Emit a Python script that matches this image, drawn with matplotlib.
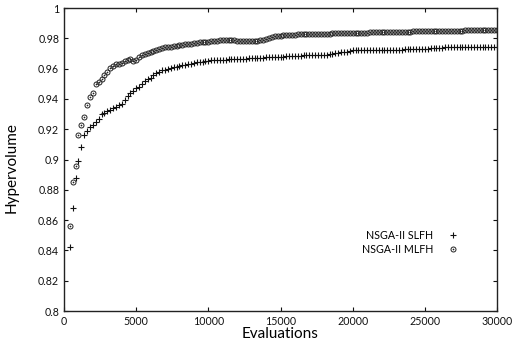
import matplotlib
matplotlib.use("Agg")
import matplotlib.pyplot as plt
from matplotlib.path import Path
from matplotlib.ticker import FuncFormatter, MultipleLocator

# Evaluation counts at which the hypervolume was recorded
evaluations = list(range(400, 30001, 200))

hv_slfh = [
    0.842, 0.868, 0.888, 0.899, 0.908, 0.916, 0.919, 0.9217, 0.923, 0.925,
    0.927, 0.930, 0.931, 0.932, 0.933, 0.934, 0.935, 0.936, 0.937, 0.9395,
    0.942, 0.944, 0.945, 0.947, 0.948, 0.950, 0.952, 0.953, 0.954, 0.9555,
    0.957, 0.958, 0.9588, 0.9594, 0.960, 0.9605, 0.961, 0.9614, 0.9618, 0.9622,
    0.9626, 0.9630, 0.9634, 0.9637, 0.9641, 0.9644, 0.9647, 0.9650, 0.9652, 0.9654,
    0.9656, 0.9657, 0.9658, 0.9659, 0.9660, 0.9661, 0.9662, 0.9663, 0.9664, 0.9665,
    0.9666, 0.9667, 0.9668, 0.9669, 0.9670, 0.9671, 0.9672, 0.9673, 0.9674, 0.9675,
    0.9676, 0.9677, 0.9678, 0.9679, 0.9680, 0.9681, 0.9682, 0.9683, 0.9684, 0.9685,
    0.9686, 0.9687, 0.9688, 0.9689, 0.9690, 0.9690, 0.9691, 0.9691, 0.9692, 0.9693,
    0.9695, 0.9700, 0.9704, 0.9706, 0.9708, 0.9710, 0.9712, 0.9718, 0.9722, 0.9722,
    0.9723, 0.9723, 0.9723, 0.9724, 0.9724, 0.9724, 0.9725, 0.9725, 0.9725, 0.9725,
    0.9725, 0.9726, 0.9726, 0.9726, 0.9726, 0.9726, 0.9727, 0.9727, 0.9727, 0.9727,
    0.9727, 0.9727, 0.9727, 0.9728, 0.9733, 0.9738, 0.9738, 0.9739, 0.9739, 0.9739,
    0.9740, 0.9740, 0.9740, 0.9741, 0.9741, 0.9741, 0.9742, 0.9742, 0.9742, 0.9743,
    0.9743, 0.9743, 0.9744, 0.9744, 0.9744, 0.9745, 0.9745, 0.9745, 0.9745,
]

hv_mlfh = [
    0.856, 0.885, 0.896, 0.916, 0.923, 0.928, 0.936, 0.941, 0.944, 0.950,
    0.951, 0.953, 0.956, 0.958, 0.9606, 0.962, 0.963, 0.963, 0.964, 0.965,
    0.966, 0.9667, 0.9648, 0.9660, 0.9675, 0.9690, 0.9700, 0.9705, 0.9712, 0.9717,
    0.9722, 0.9730, 0.9735, 0.9740, 0.9743, 0.9746, 0.9749, 0.9752, 0.9756, 0.9758,
    0.9761, 0.9764, 0.9766, 0.9769, 0.9771, 0.9773, 0.9775, 0.9777, 0.9779, 0.9781,
    0.9783, 0.9785, 0.9786, 0.9787, 0.9787, 0.9787, 0.9786, 0.9786, 0.9785, 0.9785,
    0.9784, 0.9784, 0.9784, 0.9784, 0.9785, 0.9785, 0.9786, 0.9788, 0.9795, 0.9805,
    0.9810, 0.9813, 0.9816, 0.9818, 0.9820, 0.9822, 0.9823, 0.9824, 0.9825, 0.9826,
    0.9827, 0.9828, 0.9828, 0.9829, 0.9829, 0.9830, 0.9830, 0.9831, 0.9831, 0.9832,
    0.9832, 0.9833, 0.9833, 0.9834, 0.9834, 0.9835, 0.9835, 0.9836, 0.9836, 0.9836,
    0.9837, 0.9837, 0.9838, 0.9838, 0.9839, 0.9839, 0.9840, 0.9840, 0.9840, 0.9841,
    0.9841, 0.9842, 0.9842, 0.9843, 0.9843, 0.9844, 0.9844, 0.9845, 0.9845, 0.9846,
    0.9846, 0.9846, 0.9847, 0.9847, 0.9848, 0.9848, 0.9848, 0.9849, 0.9849, 0.9850,
    0.9850, 0.9850, 0.9851, 0.9851, 0.9852, 0.9852, 0.9852, 0.9853, 0.9853, 0.9854,
    0.9854, 0.9854, 0.9855, 0.9855, 0.9855, 0.9855, 0.9856, 0.9856, 0.9856,
]

series_labels = ["NSGA-II SLFH", "NSGA-II MLFH"]
x_ticks = [0, 5000, 10000, 15000, 20000, 25000, 30000]

plt.rcParams["font.family"] = ["Lato", "DejaVu Sans"]

# circle with a dot in the centre
_circ = Path.unit_circle()
_dot = Path(_circ.vertices * 0.15, _circ.codes)
dotted_circle = Path.make_compound_path(_circ, _dot)

fig = plt.figure(figsize=(5.14, 3.47), dpi=100)
ax = fig.add_axes([0.1245, 0.1037, 0.8425, 0.873])

ax.plot(evaluations, hv_slfh, linestyle="none", marker="+", markersize=3.8,
        markeredgewidth=0.8, color="#111111", label=series_labels[0])
ax.plot(evaluations, hv_mlfh, linestyle="none", marker=dotted_circle,
        markersize=3.6, markeredgewidth=0.7, markerfacecolor="none",
        color="#222222", label=series_labels[1])

ax.set_xlim(0, 30000)
ax.set_ylim(0.8, 1.0)
ax.set_xticks(x_ticks)
ax.yaxis.set_major_locator(MultipleLocator(0.02))
ax.yaxis.set_major_formatter(FuncFormatter(lambda v, p: f"{v:g}"))

ax.tick_params(direction="in", length=3, width=0.8, labelsize=7.7,
               top=True, right=True, colors="#111111", pad=3.5)
for s in ax.spines.values():
    s.set_linewidth(1.0)
    s.set_color("#222222")

ax.set_xlabel("Evaluations", fontsize=11, labelpad=0)
ax.set_ylabel("Hypervolume", fontsize=11)
ax.yaxis.set_label_coords(-0.105, 0.475)

leg = ax.legend(loc="center right", bbox_to_anchor=(0.921, 0.226),
                borderaxespad=0, frameon=False, markerfirst=False,
                numpoints=1, fontsize=7.7, handlelength=1.0,
                handletextpad=1.35, labelspacing=0.3)

fig.savefig("out.png", dpi=100)
